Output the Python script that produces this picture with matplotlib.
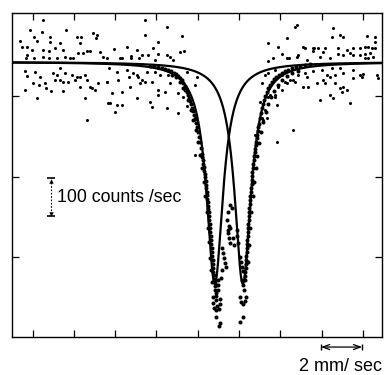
import matplotlib
matplotlib.use("Agg")
import matplotlib.pyplot as plt
import numpy as np

# ---- Lorentzian components (channel units, counts/sec) ----
baseline = 724
line_centers = [203, 231]
line_hwhm = [10, 10]
line_depth = [584, 584]

# ---- scattered background points (channel, counts/sec) ----
bg_ch = [31, 18, 30, 54, 81, 85, 8, 22, 25, 38, 38, 65, 69, 84, 10, 15, 20, 31, 43, 48,
         51, 68, 75, 78, 88, 15, 22, 14, 31, 37, 45, 53, 58, 61, 66, 71, 91, 95, 37,
         13, 15, 23, 28, 41, 45, 48, 53, 60, 65, 68, 73, 21, 27, 33, 51, 56, 63, 68, 75,
         80, 78, 86, 95, 13, 34, 39, 51, 83, 25, 73, 96, 75, 43, 48,
         133, 155, 133, 170, 146, 102, 115, 125, 141, 168, 172, 108, 110, 119, 119, 127,
         130, 136, 146, 155, 158, 161, 143,
         97, 105, 115, 121, 125, 126, 117, 135, 143, 148, 156, 175, 185, 95, 106, 130, 133,
         128, 140, 158, 183, 118, 100, 110, 146, 153, 166, 171, 98, 125, 138, 146, 105,
         110, 155, 140, 175, 166, 103, 183, 183,
         283, 275, 256, 266, 291, 293, 301, 301, 270, 275, 277, 285, 286, 261, 256, 295, 285,
         253, 256, 263, 270, 278, 281, 286, 293, 295, 283, 273, 275, 266, 270, 291, 296,
         250, 256, 258, 263, 263, 265, 248, 253, 255, 250, 251, 281, 265, 243,
         321, 328, 331, 320, 355, 363, 302, 306, 313, 311, 326, 335, 341, 348, 353, 356,
         360, 363, 363, 331, 338, 341, 348, 353, 358, 353, 356, 361, 326, 318, 308,
         301, 310, 320, 328, 315, 318, 323, 331, 341, 348, 350, 351, 365, 305, 311, 313,
         323, 331, 335, 341, 366, 308, 318, 321, 330, 338, 328]
bg_counts = [834, 808, 803, 808, 800, 795, 779, 789, 779, 789, 776, 789, 789, 787, 763, 763,
             755, 755, 761, 774, 755, 774, 753, 753, 750, 742, 734, 734, 737, 734, 734, 737,
             734, 734, 747, 747, 737, 734, 753,
             700, 687, 697, 684, 695, 690, 708, 695, 690, 684, 684, 690, 668, 663, 668, 671,
             671, 676, 658, 676, 655, 658, 668, 671, 650, 655, 647, 647, 650, 629, 629, 616,
             571, 676, 676,
             834, 816, 795, 792, 776, 758, 763, 755, 761, 750, 753, 734, 734, 740, 734, 734,
             742, 742, 745, 742, 737, 729, 729,
             708, 697, 703, 695, 690, 684, 684, 697, 697, 690, 690, 697, 684, 671, 676, 676,
             671, 668, 671, 668, 663, 658, 642, 645, 650, 645, 642, 632, 616, 629, 619, 637,
             611, 611, 603, 605, 608, 590, 592, 576, 479,
             816, 787, 774, 763, 763, 761, 761, 753, 745, 734, 734, 737, 742, 734, 727, 729,
             821,
             690, 695, 703, 690, 676, 676, 690, 695, 684, 671, 671, 668, 658, 650, 658, 658,
             668, 632, 637, 637, 632, 611, 619, 597, 576, 576, 571, 545, 513, 532,
             813, 795, 789, 789, 792, 789, 761, 761, 761, 750, 761, 755, 761, 761, 763, 763,
             761, 761, 776, 742, 747, 742, 742, 745, 747, 734, 734, 737, 745, 734, 737,
             700, 703, 708, 708, 690, 684, 690, 695, 703, 690, 684, 692, 690, 668, 676, 668,
             668, 658, 650, 682, 682, 624, 637, 629, 645, 616, 655]

# ---- points in the absorption region (channel, counts/sec) ----
dip_ch = [138, 142, 146, 150, 153, 156, 159, 162, 164, 166, 168, 170, 171, 173, 174, 175,
          176, 177, 178, 179, 180, 181, 182, 183, 184, 185, 186, 187, 188, 189, 190, 191,
          192, 193, 194, 194, 195, 196, 196, 197, 198, 198, 199, 200, 200, 201, 201, 202,
          203, 204, 204, 205,
          173, 176, 179, 181, 184, 186, 188, 190, 192, 193, 195, 196, 197, 198, 199, 200,
          160, 164, 168, 171,
          190, 191, 192, 193, 194, 195, 195, 196, 197, 197, 198, 199, 199, 200, 201, 201,
          202, 203, 203, 204,
          201, 201, 202, 204, 207, 208, 208, 204, 208, 207,
          206, 206, 206, 211, 212, 213, 214, 216, 217, 218, 218, 216, 217, 216, 218, 220,
          215, 210, 209, 210, 225, 225, 226, 228, 229, 230, 231, 230, 231, 232, 228, 229,
          231, 233, 234, 231, 228, 221, 222,
          233, 233, 234, 234, 235, 235, 236, 236, 237, 237, 238, 239, 240, 240, 241, 242,
          243, 244, 245, 246, 247, 248, 249, 250, 251, 252, 253, 255, 256, 258, 260, 262,
          264, 267, 270, 273, 276, 280, 284, 288, 293, 298,
          236, 237, 238, 239, 241, 242, 244, 245, 247, 249, 251, 254, 256, 259, 262, 266,
          270, 275, 280, 286,
          233, 234, 234, 235, 235, 236, 236, 237, 237, 238, 238, 239, 240, 240, 241, 242,
          243, 244, 245, 246]
dip_counts = [713, 713, 711, 708, 705, 703, 700, 695, 692, 687, 682, 676, 668, 661, 653, 645,
              637, 629, 621, 613, 603, 595, 584, 574, 563, 553, 540, 526, 513, 497, 482, 466,
              447, 429, 411, 392, 374, 355, 337, 318, 297, 276, 255, 234, 213, 192, 171, 153,
              134, 116, 97, 82,
              650, 624, 597, 571, 545, 513, 479, 445, 408, 371, 329, 287, 250, 208, 176, 145,
              690, 684, 671, 655,
              474, 456, 438, 420, 401, 383, 364, 346, 328, 308, 287, 266, 245, 224, 202, 182,
              162, 143, 125, 107,
              105, 89, 76, 71, 74, 87, 100, 53, 37, 29,
              150, 137, 124, 221, 208, 195, 184, 274, 261, 247, 287, 281, 292, 329, 347, 339,
              308, 176, 155, 234, 282, 266, 247, 211, 197, 184, 174, 150, 137, 124, 105, 92,
              87, 95, 105, 53, 39, 261, 242,
              150, 171, 192, 213, 234, 255, 276, 297, 318, 340, 361, 382, 403, 424, 445, 466,
              487, 505, 524, 542, 561, 576, 590, 603, 613, 624, 634, 645, 655, 663, 671, 679,
              684, 690, 695, 700, 703, 708, 711, 713, 716, 719,
              197, 242, 287, 329, 371, 408, 445, 476, 511, 540, 566, 592, 613, 632, 647, 663,
              676, 687, 695, 700,
              160, 182, 203, 224, 245, 266, 287, 308, 329, 350, 372, 392, 414, 434, 456, 476,
              496, 514, 533, 552]

# ---- scale bars ----
counts_bar = 100            # counts/sec
vel_bar = 2                 # mm/sec
channels_per_mm = 20.625
counts_label = "100 counts /sec"
vel_label = "2 mm/ sec"

fig = plt.figure(figsize=(3.89, 3.75), dpi=100)
ax = fig.add_axes([11.5 / 389, 1 - 337 / 375, 370.5 / 389, 324 / 375])

xs = np.linspace(0, 370, 2000)
for c, w, d in zip(line_centers, line_hwhm, line_depth):
    ax.plot(xs, baseline - d / (1 + ((xs - c) / w) ** 2), color="black", lw=1.6,
            solid_capstyle="butt", zorder=2)

ax.plot(bg_ch, bg_counts, "o", ms=2.2, color="black", mec="none", zorder=3)
ax.plot(dip_ch, dip_counts, "o", ms=2.9, color="black", mec="none", zorder=3)

ax.set_xlim(0, 370)
ax.set_ylim(0, 853)
ax.set_xticks([21 + k * vel_bar * channels_per_mm for k in range(9)])
ax.set_yticks([211, 422, 634])
ax.tick_params(direction="in", top=True, right=True, length=5, width=0.9,
               labelbottom=False, labelleft=False)
for s in ax.spines.values():
    s.set_linewidth(1.0)

# 100 counts/sec scale bar
bx = 39
b0, b1 = 318, 318 + counts_bar
ax.plot([bx, bx], [b0 + 6, b1 - 6], color="black", lw=0.8, ls=(0, (1.5, 1.5)))
ax.plot([bx], [b1], marker="_", ms=6, mew=1.2, color="black")
ax.plot([bx], [b0], marker="_", ms=6, mew=1.2, color="black")
ax.plot([bx], [b1 - 7], marker="^", ms=3.2, color="black", mec="none")
ax.plot([bx], [b0 + 7], marker="v", ms=3.2, color="black", mec="none")
ax.text(bx + 6, (b0 + b1) / 2, counts_label, ha="left", va="center",
        fontsize=12.8, family="Liberation Sans")

# 2 mm/sec scale bar below the axes
v0 = 309
v1 = v0 + vel_bar * channels_per_mm
xt = ax.get_xaxis_transform()
ax.annotate("", xy=(v0, -0.031), xytext=(v1, -0.031),
            xycoords=xt, textcoords=xt,
            arrowprops=dict(arrowstyle="<->,head_length=0.5,head_width=0.18",
                            lw=0.9, color="black", shrinkA=0, shrinkB=0),
            annotation_clip=False)
ax.plot([v0, v1], [-0.031, -0.031], "|", ms=5, mew=1.0, color="black",
        transform=xt, clip_on=False)
ax.text((v0 + v1) / 2 - 1, -0.09, vel_label, transform=xt,
        ha="center", va="center", fontsize=13, family="Liberation Sans")

fig.savefig("out.png", dpi=100)
